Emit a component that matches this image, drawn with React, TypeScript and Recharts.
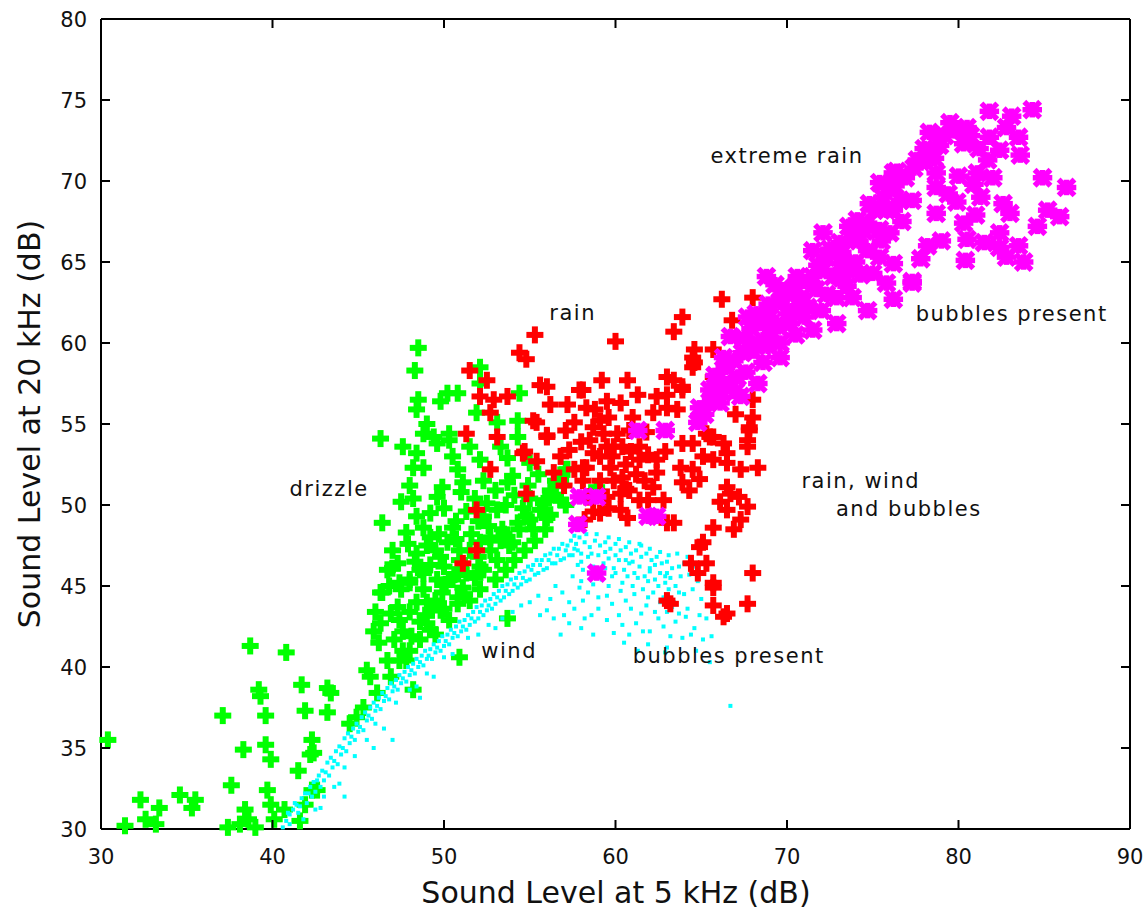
import React from "react";
import {
  ScatterChart,
  Scatter,
  XAxis,
  YAxis,
  ReferenceLine,
  ReferenceDot,
} from "recharts";

type Pt = [number, number];

// drizzle (green plus)
const drizzle: Pt[] = [
  [30.4, 35.5], [31.4, 30.2], [32.3, 31.8], [32.6, 30.6], [33.2, 30.3], [33.4, 31.3], [34.6, 32.1], [35.5, 31.8], [35.3, 31.3],
  [37.1, 37.0], [37.4, 30.1], [38.1, 30.3], [38.4, 31.2], [38.6, 30.6], [38.7, 41.3], [39.2, 38.6], [39.3, 38.2], [39.6, 37.0],
  [38.3, 34.9], [37.6, 32.7], [39.6, 35.2], [39.9, 34.3], [39.7, 32.4], [39.9, 31.5], [40.1, 30.6], [39.0, 30.1], [40.8, 40.9],
  [41.7, 38.9], [41.9, 37.3], [42.3, 35.5], [42.2, 34.6], [43.2, 38.7], [43.2, 37.2], [42.3, 32.4], [41.9, 31.5], [41.6, 30.5], [40.7, 31.2],
  [47.0, 46.1], [46.3, 44.6], [48.8, 45.8], [48.0, 45.2], [46.9, 43.3], [47.3, 43.7], [46.3, 42.7], [46.2, 41.5], [45.5, 39.8], [45.7, 39.4],
  [46.7, 40.4], [47.6, 41.0], [47.8, 40.4], [48.1, 41.9], [49.0, 42.7], [49.3, 43.5], [49.9, 44.6], [50.5, 45.4], [49.6, 45.4], [51.3, 45.8],
  [52.1, 46.2], [48.2, 38.6], [46.9, 39.4], [46.1, 38.4], [45.3, 37.5], [44.5, 36.5], [44.9, 36.9], [42.4, 34.7], [42.6, 32.4],
  [41.5, 33.6], [53.7, 43.0], [50.9, 40.6], [43.4, 38.4],
  [48.5, 59.7], [48.3, 58.3], [48.5, 56.5], [48.4, 55.9], [50.2, 56.9], [50.8, 56.9], [49.8, 56.4], [52.1, 58.5], [52.1, 57.5],
  [46.3, 54.1], [48.8, 54.4], [49.4, 54.2], [50.3, 54.4], [49.6, 53.8], [50.3, 54.0], [51.5, 53.6], [51.9, 55.7], [54.4, 56.9],
  [54.3, 55.2], [54.3, 54.2], [53.1, 55.1], [48.4, 53.2], [48.2, 52.3], [48.8, 52.3], [50.5, 53.0], [53.7, 52.9], [52.3, 51.5],
  [51.1, 51.4], [53.7, 51.4], [49.9, 51.1], [49.6, 50.5], [48.2, 50.4], [46.4, 48.9], [48.4, 49.3], [48.8, 48.6], [50.5, 48.6],
  [52.5, 50.1], [47.8, 48.3], [49.2, 48.0], [50.2, 47.7], [50.9, 47.2], [49.8, 46.8], [52.3, 49.3], [53.1, 49.7], [53.4, 48.5],
  [54.3, 48.9], [54.8, 49.3], [55.8, 50.1], [52.1, 47.7], [52.7, 48.0], [47.0, 47.2], [47.3, 46.4], [46.7, 46.0], [48.0, 45.4],
  [48.6, 46.0], [50.3, 45.4], [51.1, 44.9], [50.8, 44.3], [48.8, 44.8], [46.4, 44.6], [52.3, 46.0], [53.1, 46.6], [54.0, 47.7],
  [55.2, 48.5], [50.9, 46.6], [51.5, 47.2], [52.7, 47.2], [53.3, 47.8], [53.8, 47.5], [54.4, 48.5], [55.0, 49.1], [55.6, 49.7],
  [55.9, 50.3], [56.2, 50.9], [56.8, 51.5], [57.1, 52.2], [56.5, 50.6], [51.5, 44.1], [52.1, 44.8], [53.0, 45.4], [53.6, 46.0],
  [54.1, 46.6], [54.7, 47.2], [55.3, 47.8], [55.9, 48.5], [49.8, 43.5], [50.3, 42.9], [49.2, 42.3], [48.6, 41.7], [48.0, 41.0],
  [47.4, 40.4], [47.1, 41.7], [47.4, 42.9], [49.5, 44.1], [50.1, 45.1], [50.6, 45.7], [57.2, 52.2], [58.9, 51.1], [56.8, 50.3],
  [56.2, 49.4], [57.1, 50.0], [56.5, 51.5],
  [47.5, 44.8], [48.4, 44.0], [48.9, 43.2], [47.6, 42.2], [48.6, 42.8], [49.5, 42.0], [50.0, 43.6], [50.8, 43.9], [51.2, 44.5],
  [51.8, 45.5], [49.0, 47.5], [49.7, 48.2], [50.7, 49.0], [51.3, 49.6], [51.8, 50.4], [51.0, 50.8], [50.0, 49.8], [52.0, 49.0],
  [53.0, 50.9], [54.1, 50.6], [54.9, 51.2], [55.5, 51.9], [55.0, 50.4], [53.6, 50.0], [52.6, 48.7], [51.6, 48.2], [50.7, 47.9],
  [49.5, 47.2], [48.4, 47.0], [47.9, 47.6], [47.4, 45.2], [48.3, 46.5], [49.2, 46.3], [50.0, 46.2], [51.0, 46.0], [52.0, 46.8],
  [46.0, 43.4], [45.9, 42.2], [46.8, 45.0], [48.0, 43.4], [49.0, 44.0], [53.5, 48.2], [54.6, 49.8], [56.0, 49.2], [54.0, 51.8],
  [55.0, 52.6], [49.2, 49.5], [47.5, 50.2], [50.8, 52.2], [52.1, 52.8], [53.3, 53.6], [49.0, 55.0], [47.6, 53.6], [48.0, 51.2],
];

// rain (red plus)
const rain: Pt[] = [
  [66.2, 62.7], [68.0, 62.8], [63.9, 61.6], [63.4, 60.7], [60.0, 60.1], [64.6, 59.6], [64.6, 58.8], [65.7, 59.6], [59.2, 57.7],
  [60.7, 57.7], [58.1, 57.1], [56.0, 57.3], [56.2, 56.2], [57.2, 56.2], [58.3, 56.0], [60.3, 56.3], [59.1, 55.2], [59.6, 55.4],
  [61.0, 55.4], [62.4, 56.7], [63.0, 56.8], [63.4, 57.7], [63.9, 57.3], [62.2, 55.7], [63.0, 56.0], [63.6, 55.9], [65.7, 57.9],
  [68.0, 56.5], [58.7, 54.8], [60.1, 54.4], [59.5, 53.6], [60.4, 53.6], [61.4, 53.6], [58.7, 53.2], [59.8, 53.0], [58.3, 52.3],
  [59.7, 52.3], [57.3, 53.4], [56.0, 54.2], [62.4, 52.8], [62.4, 52.0], [63.9, 53.8], [64.5, 53.8], [65.5, 54.2], [66.3, 53.8],
  [63.8, 52.3], [64.5, 52.2], [65.7, 52.8], [66.5, 53.2], [67.8, 54.8], [67.7, 53.6], [67.3, 52.2], [68.3, 52.3], [63.9, 51.4],
  [64.3, 50.9], [66.5, 51.1], [62.8, 50.3], [60.4, 51.7], [60.3, 50.7], [59.1, 49.5], [59.5, 50.5], [58.5, 50.5], [58.1, 51.5],
  [56.4, 52.0], [66.5, 49.7], [67.7, 49.9], [67.3, 49.1], [65.7, 48.6], [65.1, 47.7], [65.3, 46.4], [68.0, 45.8], [63.4, 48.9],
  [65.7, 45.2], [63.0, 44.1], [65.7, 43.8], [67.7, 43.9], [66.5, 43.3], [66.8, 61.4], [64.5, 59.1], [63.9, 57.1], [67.8, 54.6],
  [65.7, 54.2], [55.3, 60.5], [54.4, 59.4], [54.8, 59.0], [51.5, 58.3], [52.5, 57.7], [52.1, 56.7], [52.9, 56.5], [53.7, 56.7],
  [55.6, 57.4], [55.2, 55.2], [56.0, 54.3], [53.1, 54.2], [51.3, 54.4], [54.7, 53.3], [55.4, 52.7], [52.7, 52.2], [54.8, 50.7],
  [51.9, 49.7], [51.9, 47.2], [51.1, 46.4], [57.9, 57.1], [63.0, 57.9], [64.5, 58.5], [67.7, 54.0], [66.5, 52.6], [65.3, 54.4],
  [66.7, 50.7], [64.9, 47.4], [65.7, 44.9], [66.3, 43.1], [63.2, 43.9], [63.0, 48.9], [59.1, 53.0], [59.9, 51.5], [58.1, 52.3],
  [58.3, 50.5], [59.9, 53.6], [60.8, 54.6], [61.4, 52.8], [60.8, 50.9], [59.1, 51.5], [57.6, 52.2], [58.5, 54.0], [60.6, 52.5],
  [61.7, 51.5], [57.1, 54.6], [61.4, 50.3], [60.3, 49.7], [58.2, 49.1], [55.4, 55.1], [54.6, 53.2], [52.7, 55.7],
  [58.8, 55.9], [59.5, 56.4], [61.3, 56.8], [61.8, 54.5], [62.9, 53.3], [61.9, 53.1], [60.9, 53.3], [59.3, 54.4], [58.0, 53.9],
  [57.6, 55.1], [60.6, 51.0], [61.2, 51.9], [62.2, 51.1], [59.6, 49.8], [60.7, 49.2], [58.7, 49.6], [61.9, 50.3], [57.0, 51.2],
  [56.8, 53.0], [64.9, 51.6], [66.1, 50.2], [67.2, 50.5], [65.1, 53.0], [67.0, 55.6], [68.0, 55.4], [66.9, 48.5], [64.4, 46.4],
  [64.8, 45.8],
];

// extreme rain / bubbles (magenta star)
const extremeRain: Pt[] = [
  [81.8, 74.3], [83.1, 74.0], [84.3, 74.4], [79.5, 73.6], [80.5, 73.3], [78.3, 73.0], [81.8, 72.7], [83.5, 72.7], [80.3, 72.3],
  [78.9, 72.2], [82.4, 71.9], [77.8, 71.2], [76.4, 70.6], [81.7, 71.3], [78.7, 70.5], [81.1, 70.5], [82.0, 70.2], [84.9, 70.2],
  [86.3, 69.6], [76.0, 69.6], [77.3, 68.8], [78.7, 69.6], [79.9, 68.7], [81.3, 69.0], [78.7, 68.0], [82.6, 68.6], [83.0, 68.0],
  [85.2, 68.2], [85.9, 67.8], [84.6, 67.2], [80.3, 67.4], [80.5, 66.4], [82.4, 66.8], [82.4, 65.9], [80.4, 65.1], [77.8, 65.2],
  [82.8, 65.3], [83.8, 65.0], [77.3, 63.8], [76.2, 68.2], [76.0, 66.8], [76.2, 64.9], [75.8, 63.7], [78.3, 71.9],
  [68.8, 64.1], [69.6, 63.3], [70.6, 64.1], [72.1, 66.8], [72.3, 65.3], [71.5, 65.7], [74.1, 67.6], [74.8, 68.6], [73.8, 66.4],
  [75.4, 67.0], [76.2, 70.5], [77.6, 71.3], [77.3, 63.7], [76.2, 62.7], [75.0, 64.3], [74.7, 62.0], [72.9, 61.2], [71.5, 60.8],
  [70.2, 61.2], [71.2, 62.2], [72.9, 62.8], [73.8, 62.8], [69.6, 62.5], [68.4, 61.2], [68.6, 60.2], [69.6, 60.0], [67.7, 61.6],
  [66.7, 60.4], [66.3, 59.1], [67.4, 59.4], [68.6, 58.8], [69.6, 59.1], [68.3, 57.5], [67.1, 57.9], [66.5, 57.5], [65.5, 57.1],
  [64.9, 56.0], [64.8, 55.1], [66.1, 56.3], [67.3, 56.7], [74.7, 65.7], [75.4, 65.3], [73.8, 64.5], [72.7, 64.1], [71.7, 63.3],
  [70.8, 62.8], [72.1, 64.5], [73.1, 66.2], [75.4, 69.9], [76.6, 68.8], [75.8, 68.2], [74.7, 67.4], [73.1, 64.9], [70.3, 62.0],
  [69.0, 61.6], [68.0, 60.0], [71.5, 64.1],
  [65.2, 55.6], [65.6, 56.5], [66.0, 57.8], [66.4, 58.5], [66.9, 58.9], [67.5, 60.3], [67.9, 60.9], [68.2, 61.8], [68.9, 62.4],
  [69.3, 63.6], [70.0, 63.0], [70.5, 63.5], [71.0, 63.8], [71.8, 64.8], [72.5, 65.8], [73.2, 65.6], [73.6, 67.2], [74.2, 66.3],
  [74.5, 66.9], [75.1, 68.2], [75.6, 69.0], [76.3, 69.7], [76.9, 70.2], [77.4, 70.8], [78.0, 72.0], [78.6, 71.4], [79.2, 72.8],
  [79.8, 73.1], [80.7, 72.8], [81.2, 72.0], [82.8, 73.3], [83.6, 71.6], [80.9, 69.8], [79.4, 69.2], [80.0, 70.3], [78.2, 66.0],
  [79.0, 66.3], [81.5, 66.2], [81.0, 67.9], [83.5, 66.0], [70.5, 60.5], [71.0, 61.6], [72.0, 62.0], [73.5, 63.5], [74.3, 64.2],
  [68.0, 59.5], [67.0, 57.0], [69.1, 60.7], [65.8, 58.0], [66.2, 57.0], [67.6, 58.2], [68.9, 59.8], [69.5, 61.0], [70.0, 61.8],
  [70.9, 62.5], [72.3, 63.0], [73.2, 64.0], [74.0, 65.0], [75.5, 66.3], [76.7, 67.5],
  [61.3, 54.6], [62.9, 54.6], [57.9, 50.5], [58.9, 50.5], [57.8, 48.8], [61.9, 49.3], [62.4, 49.3], [58.9, 45.8],
];

// wind (cyan dots)
const wind: Pt[] = [
  [40.6, 30.1], [40.8, 30.5], [41.0, 30.9], [41.2, 31.2], [41.4, 31.5], [41.5, 31.0], [41.7, 31.9], [41.9, 32.2], [42.0, 31.6],
  [42.2, 32.6], [42.4, 32.9], [42.5, 32.3], [42.7, 33.3], [42.9, 33.6], [43.0, 33.0], [43.2, 34.1], [43.4, 34.4], [43.5, 33.8],
  [43.7, 34.8], [43.9, 35.1], [44.0, 34.6], [44.2, 35.6], [44.4, 35.9], [44.5, 35.3], [44.7, 36.2], [44.9, 36.5], [45.0, 36.0],
  [45.2, 36.9], [45.4, 37.2], [45.5, 36.7], [45.7, 37.5], [45.9, 37.8], [46.0, 37.3], [46.2, 38.1], [46.4, 38.4], [46.5, 37.9],
  [46.7, 38.7], [46.9, 39.0], [47.0, 38.5], [47.2, 39.2], [47.4, 39.5], [47.5, 39.0], [47.7, 39.7], [47.9, 40.0], [48.0, 39.5],
  [48.2, 40.2], [48.4, 40.5], [48.5, 40.0], [48.7, 40.7], [48.9, 41.0], [49.0, 40.5], [49.2, 41.1], [49.4, 41.4], [49.5, 40.9],
  [49.7, 41.6], [49.9, 41.9], [50.0, 41.3], [50.2, 42.0], [50.4, 42.3], [50.5, 41.8], [50.7, 42.5], [50.9, 42.8], [51.0, 42.2],
  [51.2, 42.9], [51.4, 43.2], [51.5, 42.6], [51.7, 43.4], [51.9, 43.7], [52.0, 43.0], [52.2, 43.8], [52.4, 44.1], [52.5, 43.5],
  [52.7, 44.2], [52.9, 44.5], [53.0, 43.9], [53.2, 44.7], [53.4, 45.0], [53.5, 44.3], [53.7, 45.1], [53.9, 45.4], [54.0, 44.7],
  [54.2, 45.5], [54.4, 45.8], [54.5, 45.1], [54.7, 45.9], [54.9, 46.2], [55.0, 45.4], [55.2, 46.3], [55.4, 46.6], [55.5, 45.8],
  [55.7, 46.6], [55.9, 46.9], [56.0, 46.1], [56.2, 47.0], [56.4, 47.3], [56.5, 46.4], [56.7, 47.3], [56.9, 47.6], [57.0, 46.7],
  [57.2, 47.5], [57.4, 47.8], [57.5, 46.9], [57.7, 47.6], [57.9, 48.0], [58.0, 47.0],
  [40.9, 31.0], [41.3, 31.6], [41.6, 31.4], [42.1, 32.2], [42.3, 32.0], [42.6, 33.0], [42.8, 32.6], [43.1, 33.5], [43.3, 33.3],
  [43.6, 34.2], [43.8, 34.0], [44.1, 35.0], [44.3, 34.8], [44.6, 35.7], [44.8, 35.5], [45.1, 36.3], [45.3, 36.1], [45.6, 37.0],
  [45.8, 36.8], [46.1, 37.6], [46.3, 37.4], [46.6, 38.2], [46.8, 38.0], [47.1, 38.8], [47.3, 38.6], [47.6, 39.3], [47.8, 39.1],
  [48.1, 39.8], [48.3, 39.6], [48.6, 40.3], [48.8, 40.1], [49.1, 40.7], [49.3, 40.5], [49.6, 41.2], [49.8, 41.0], [50.1, 41.6],
  [50.3, 41.4], [50.6, 42.1], [50.8, 41.9], [51.1, 42.5], [51.3, 42.3], [51.6, 43.0], [51.8, 42.8], [52.1, 43.4], [52.3, 43.2],
  [52.6, 43.8], [52.8, 43.6], [53.1, 44.3], [53.3, 44.1], [53.6, 44.7], [53.8, 44.5], [54.1, 45.1], [54.3, 44.9], [54.6, 45.5],
  [54.8, 45.3], [55.1, 46.0], [55.3, 45.7], [55.6, 46.3], [55.8, 46.0], [56.1, 46.6], [56.3, 46.4], [56.6, 46.9], [56.8, 46.6],
  [57.1, 47.2], [57.3, 46.9], [57.6, 47.3], [57.8, 47.2],
  [41.0, 30.3], [41.8, 30.6], [42.5, 31.2], [43.0, 32.0], [43.6, 32.6], [44.2, 33.8], [44.8, 34.5], [45.5, 35.5], [46.0, 36.5],
  [47.2, 37.8], [48.0, 38.6], [49.0, 39.6], [50.5, 40.8], [52.0, 42.0], [53.4, 43.0], [54.5, 43.8], [55.5, 44.4], [56.5, 45.0],
  [57.3, 44.0], [56.0, 43.5], [58.2, 43.0], [45.9, 35.0], [43.9, 32.8], [42.8, 31.3], [47.0, 35.5], [46.5, 36.2], [44.2, 32.0],
  [53.0, 42.4], [48.6, 38.1],
  [58.2, 47.7], [58.5, 47.4], [58.8, 47.8], [59.1, 47.5], [59.4, 47.7], [59.7, 47.3], [60.0, 47.6], [60.3, 47.2], [60.6, 47.4],
  [60.9, 47.0], [61.2, 47.2], [61.5, 46.8], [61.8, 47.0], [62.1, 46.6], [62.4, 46.8], [62.7, 46.4], [63.0, 46.5], [63.3, 46.1],
  [58.0, 46.5], [58.4, 46.8], [58.7, 46.2], [59.0, 46.9], [59.3, 46.4], [59.6, 46.7], [59.9, 46.1], [60.2, 46.6], [60.5, 46.0],
  [60.8, 46.4], [61.1, 45.8], [61.4, 46.2], [61.7, 45.6], [62.0, 45.9], [62.3, 45.4], [62.6, 45.8], [62.9, 45.2], [63.2, 45.5],
  [63.5, 45.0], [63.8, 45.6], [57.5, 45.6], [58.0, 45.3], [58.6, 45.7], [59.2, 45.4], [59.8, 45.6], [60.4, 45.2], [61.0, 45.0],
  [61.6, 44.8], [62.2, 44.6], [62.8, 44.3], [63.4, 44.0], [64.0, 44.5], [58.4, 44.6], [59.5, 44.4], [60.6, 44.1], [61.8, 43.8],
  [63.0, 43.4], [59.0, 43.6], [60.2, 43.2], [61.2, 42.7], [62.0, 42.2], [62.5, 43.0], [63.5, 42.8], [64.2, 43.6], [64.5, 44.8],
  [64.3, 45.7], [64.0, 46.4], [57.3, 42.7], [60.8, 42.0], [63.9, 41.8], [65.1, 41.7], [66.7, 37.6], [65.5, 40.3], [60.5, 41.5],
  [64.9, 43.2],
  [57.6, 48.1], [58.3, 48.2], [58.9, 48.2], [59.6, 48.0], [60.2, 47.9], [60.8, 47.7], [61.4, 47.6], [62.0, 47.3], [62.6, 47.1],
  [63.1, 46.9], [57.8, 46.3], [58.1, 46.0], [58.9, 45.9], [59.4, 46.1], [60.0, 45.8], [60.7, 45.6], [61.3, 45.5], [61.9, 45.3],
  [62.5, 45.0], [63.1, 44.8], [63.7, 44.6], [57.9, 44.9], [58.7, 45.1], [59.6, 45.0], [60.3, 44.7], [61.1, 44.5], [61.9, 44.3],
  [62.6, 44.0], [63.3, 43.7], [64.1, 43.1], [58.1, 44.1], [59.0, 44.3], [59.8, 43.9], [60.9, 43.6], [61.5, 43.3], [62.3, 43.4],
  [63.7, 43.3], [59.5, 42.9], [60.4, 42.6], [61.6, 42.2], [62.8, 42.5], [63.2, 41.9], [64.6, 42.4], [58.6, 43.2], [57.6, 43.6],
  [56.9, 44.6], [56.2, 44.2], [55.6, 43.2], [61.9, 41.4], [62.9, 40.9], [58.7, 42.0], [56.8, 42.0], [64.7, 41.0], [65.6, 41.9],
  [60.0, 46.9], [61.0, 46.5], [62.0, 46.1], [63.0, 45.8], [63.7, 46.2], [58.6, 47.0], [59.4, 47.1], [60.6, 46.6], [61.5, 47.5],
  [62.3, 46.3], [62.9, 45.6],
  [63.6, 47.0], [64.2, 46.8], [64.6, 46.2], [64.8, 45.3], [65.0, 44.2], [65.3, 43.0], [64.4, 42.0], [63.0, 41.2], [61.3, 41.0],
  [59.9, 42.1], [58.0, 42.4], [57.0, 43.2], [56.4, 43.0], [55.0, 44.0], [54.0, 43.4], [52.6, 42.6], [51.4, 41.8], [50.0, 40.6],
  [49.4, 39.4], [48.4, 38.8],
];

const xTicks = [30, 40, 50, 60, 70, 80, 90];
const yTicks = [30, 35, 40, 45, 50, 55, 60, 65, 70, 75, 80];

const notes = [
  { x: 70.0, y: 71.6, text: "extreme rain" },
  { x: 57.5, y: 61.9, text: "rain" },
  { x: 83.1, y: 61.8, text: "bubbles present" },
  { x: 43.3, y: 51.0, text: "drizzle" },
  { x: 74.3, y: 51.5, text: "rain, wind" },
  { x: 77.1, y: 49.8, text: "and bubbles" },
  { x: 53.8, y: 41.0, text: "wind" },
  { x: 66.6, y: 40.7, text: "bubbles present" },
];

const toPts = (arr: Pt[]) => arr.map(([x, y]) => ({ x, y }));

const AXIS_FONT = "'DejaVu Sans', sans-serif";
const TOP = 19;
const BOTTOM = 829;
const LEFT = 101;
const RIGHT = 1130;

const Plus = (color: string) => (props: any) => {
  const { cx, cy } = props;
  return (
    <g fill={color}>
      <rect x={cx - 8.5} y={cy - 3} width={17} height={6} />
      <rect x={cx - 3} y={cy - 8.5} width={6} height={17} />
    </g>
  );
};

const Star = (props: any) => {
  const { cx, cy } = props;
  const s = 6;
  return (
    <g stroke="#ff00ff" strokeWidth={5.5} strokeLinecap="square">
      <line x1={cx - s} y1={cy - s} x2={cx + s} y2={cy + s} />
      <line x1={cx - s} y1={cy + s} x2={cx + s} y2={cy - s} />
      <line x1={cx - s - 1} y1={cy} x2={cx + s + 1} y2={cy} />
      <line x1={cx} y1={cy - s + 1} x2={cx} y2={cy + s - 1} />
    </g>
  );
};

const Dot = (props: any) => {
  const { cx, cy } = props;
  return <rect x={cx - 2} y={cy - 2} width={4} height={4} fill="#00ffff" />;
};

const XTick = (props: any) => {
  const { x, payload } = props;
  return (
    <g>
      <line x1={x} y1={BOTTOM} x2={x} y2={BOTTOM - 9} stroke="#000" strokeWidth={2} />
      <line x1={x} y1={TOP} x2={x} y2={TOP + 9} stroke="#000" strokeWidth={2} />
      <text x={x} y={864} textAnchor="middle" fontSize={21} fontFamily={AXIS_FONT} fill="#111">
        {payload.value}
      </text>
    </g>
  );
};

const YTick = (props: any) => {
  const { y, payload } = props;
  return (
    <g>
      <line x1={LEFT} y1={y} x2={LEFT + 9} y2={y} stroke="#000" strokeWidth={2} />
      <line x1={RIGHT} y1={y} x2={RIGHT - 9} y2={y} stroke="#000" strokeWidth={2} />
      <text x={87} y={y + 8} textAnchor="end" fontSize={21} fontFamily={AXIS_FONT} fill="#111">
        {payload.value}
      </text>
    </g>
  );
};

const App = () => {
  return (
    <div style={{ position: "absolute", left: 0, top: 0, background: "#fff" }}>
      <ScatterChart
        width={1146}
        height={915}
        margin={{ top: TOP, right: 1146 - RIGHT, bottom: 0, left: 0 }}
      >
        <XAxis
          type="number"
          dataKey="x"
          domain={[30, 90]}
          ticks={xTicks}
          interval={0}
          height={915 - BOTTOM}
          axisLine={{ stroke: "#000", strokeWidth: 2 }}
          tickLine={false}
          tick={<XTick />}
          label={{
            content: () => (
              <text x={616} y={903} textAnchor="middle" fontSize={30} fontFamily={AXIS_FONT} fill="#111">
                Sound Level at 5 kHz (dB)
              </text>
            ),
          }}
        />
        <YAxis
          type="number"
          dataKey="y"
          domain={[30, 80]}
          ticks={yTicks}
          interval={0}
          width={LEFT}
          axisLine={{ stroke: "#000", strokeWidth: 2 }}
          tickLine={false}
          tick={<YTick />}
          label={{
            content: () => (
              <text
                x={40}
                y={424}
                transform="rotate(-90 40 424)"
                textAnchor="middle"
                fontSize={30}
                fontFamily={AXIS_FONT}
                fill="#111"
              >
                Sound Level at 20 kHz (dB)
              </text>
            ),
          }}
        />
        <ReferenceLine y={80} stroke="#000" strokeWidth={2} />
        <ReferenceLine x={90} stroke="#000" strokeWidth={2} />

        <Scatter data={toPts(drizzle)} shape={Plus("#00ff00")} isAnimationActive={false} />
        <Scatter data={toPts(wind)} shape={Dot} isAnimationActive={false} />
        <Scatter data={toPts(rain)} shape={Plus("#ff0000")} isAnimationActive={false} />
        <Scatter data={toPts(extremeRain)} shape={Star} isAnimationActive={false} />

        {notes.map((n) => (
          <ReferenceDot
            key={n.text + n.x}
            x={n.x}
            y={n.y}
            r={0}
            stroke="none"
            fill="none"
            label={{
              value: n.text,
              position: "center",
              fontSize: 21,
              fontFamily: AXIS_FONT,
              fill: "#111",
              letterSpacing: 1.5,
            }}
          />
        ))}
      </ScatterChart>
    </div>
  );
};

export default App;
